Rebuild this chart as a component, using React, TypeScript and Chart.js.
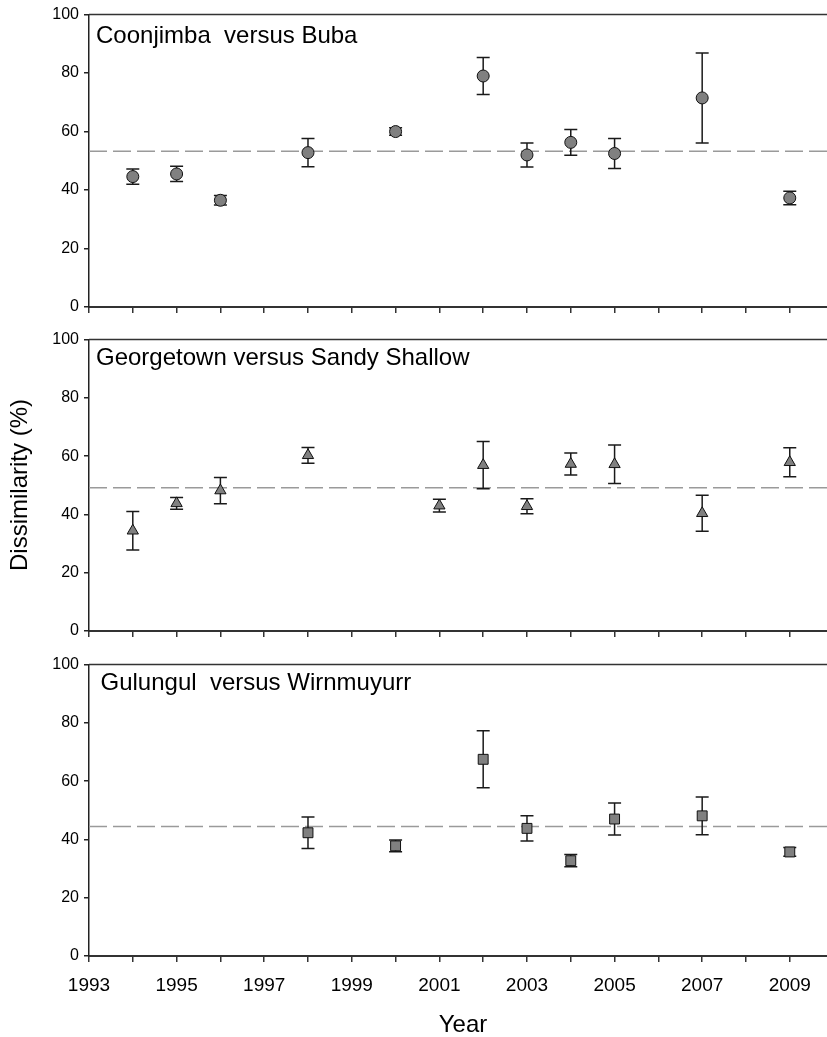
import React, { useEffect, useRef } from "react";
import { Chart, registerables } from "chart.js";

Chart.register(...registerables);

// ---- Data ----
const years1 = [1994, 1995, 1996, 1998, 2000, 2002, 2003, 2004, 2005, 2007, 2009];
const values1 = [44.6, 45.5, 36.5, 52.8, 60.0, 79.0, 52.0, 56.3, 52.5, 71.5, 37.3];
const errors1 = [2.6, 2.6, 1.6, 4.8, 1.3, 6.3, 4.1, 4.4, 5.1, 15.4, 2.3];
const mean1 = 53.3;

const years2 = [1994, 1995, 1996, 1998, 2001, 2002, 2003, 2004, 2005, 2007, 2009];
const values2 = [34.4, 43.8, 48.2, 60.3, 43.0, 56.9, 42.8, 57.3, 57.2, 40.4, 57.9];
const errors2 = [6.6, 2.0, 4.5, 2.7, 2.2, 8.1, 2.6, 3.8, 6.6, 6.2, 5.0];
const mean2 = 49.2;

const years3 = [1998, 2000, 2002, 2003, 2004, 2005, 2007, 2009];
const values3 = [42.3, 37.8, 67.5, 43.8, 32.7, 47.0, 48.1, 35.7];
const errors3 = [5.4, 2.0, 9.8, 4.3, 2.1, 5.5, 6.5, 1.5];
const mean3 = 44.4;

const panelTitles = ["Coonjimba  versus Buba", "Georgetown versus Sandy Shallow", "Gulungul  versus Wirnmuyurr"];
const xTickValues = [1993, 1994, 1995, 1996, 1997, 1998, 1999, 2000, 2001, 2002, 2003, 2004, 2005, 2006, 2007, 2008, 2009];
const yTickValues = [0, 20, 40, 60, 80, 100];
const xMin = 1993;
const xMax = 2009.85;
const yTitle = "Dissimilarity (%)";
const xTitle = "Year";

const FONT = '"Liberation Sans", Arial, Helvetica, sans-serif';

function errLines(xs: number[], vs: number[], es: number[]) {
  const out: any[] = [];
  xs.forEach((x, i) => {
    out.push({ x, y: vs[i] - es[i] });
    out.push({ x, y: vs[i] + es[i] });
    out.push({ x, y: null });
  });
  return out;
}
function capPoints(xs: number[], vs: number[], es: number[]) {
  const out: any[] = [];
  xs.forEach((x, i) => {
    out.push({ x, y: vs[i] - es[i] });
    out.push({ x, y: vs[i] + es[i] });
  });
  return out;
}
function markers(xs: number[], vs: number[]) {
  return xs.map((x, i) => ({ x, y: vs[i] }));
}

const framePlugin = {
  id: "frameTop",
  afterDraw(chart: any) {
    const { ctx, chartArea } = chart;
    ctx.save();
    ctx.strokeStyle = "#333";
    ctx.lineWidth = 1.5;
    ctx.beginPath();
    ctx.moveTo(chartArea.left, chartArea.top);
    ctx.lineTo(chartArea.right, chartArea.top);
    ctx.stroke();
    ctx.restore();
  },
};

type PanelSpec = {
  xs: number[];
  vs: number[];
  es: number[];
  mean: number;
  style: string;
  radius: number;
  padTop: number;
  xHeight: number;
  showLabels: boolean;
};

function makeConfig(p: PanelSpec): any {
  return {
    type: "scatter",
    data: {
      datasets: [
        {
          type: "line",
          data: [
            { x: xMin, y: p.mean },
            { x: xMax, y: p.mean },
          ],
          borderColor: "#9a9a9a",
          borderWidth: 1.5,
          borderDash: [18, 6],
          pointRadius: 0,
          order: 3,
        },
        {
          type: "line",
          data: errLines(p.xs, p.vs, p.es),
          borderColor: "#1a1a1a",
          borderWidth: 1.5,
          pointRadius: 0,
          spanGaps: false,
          order: 2,
        },
        {
          type: "scatter",
          data: capPoints(p.xs, p.vs, p.es),
          pointStyle: "line",
          pointRadius: 6.5,
          borderColor: "#1a1a1a",
          borderWidth: 1.5,
          order: 2,
        },
        {
          type: "scatter",
          data: markers(p.xs, p.vs),
          pointStyle: p.style,
          pointRadius: p.radius,
          backgroundColor: "#808080",
          borderColor: "#111",
          borderWidth: 1,
          order: 1,
        },
      ],
    },
    options: {
      responsive: false,
      maintainAspectRatio: false,
      animation: false,
      events: [],
      layout: { autoPadding: false, padding: { top: p.padTop, left: 0, right: 0, bottom: 0 } },
      plugins: { legend: { display: false }, tooltip: { enabled: false }, title: { display: false } },
      scales: {
        x: {
          type: "linear",
          min: xMin,
          max: xMax,
          afterBuildTicks: (s: any) => {
            s.ticks = xTickValues.map((v) => ({ value: v }));
          },
          afterFit: (s: any) => {
            s.height = p.xHeight;
          },
          grid: { drawOnChartArea: false, drawTicks: true, tickLength: 6, color: "#333", lineWidth: 1.5 },
          border: { display: true, color: "#333", width: 2 },
          ticks: {
            display: p.showLabels,
            autoSkip: false,
            maxRotation: 0,
            padding: 12,
            color: "#000",
            font: { family: FONT, size: 19 },
            callback: (v: any) => (Math.round(v) % 2 === 1 ? String(Math.round(v)) : ""),
          },
        },
        y: {
          type: "linear",
          min: 0,
          max: 100,
          afterBuildTicks: (s: any) => {
            s.ticks = yTickValues.map((v) => ({ value: v }));
          },
          afterFit: (s: any) => {
            s.width = 89;
          },
          grid: { drawOnChartArea: false, drawTicks: true, tickLength: 5, color: "#222", lineWidth: 1.5 },
          border: { display: true, color: "#222", width: 1.5 },
          ticks: { padding: 5, color: "#000", font: { family: FONT, size: 16 } },
        },
      },
    },
    plugins: [framePlugin],
  };
}

function Panel({ spec, top, height }: { spec: PanelSpec; top: number; height: number }) {
  const ref = useRef<HTMLCanvasElement | null>(null);
  useEffect(() => {
    if (!ref.current) return;
    const chart = new Chart(ref.current, makeConfig(spec));
    return () => chart.destroy();
  }, []);
  return (
    <canvas
      ref={ref}
      width={827}
      height={height}
      style={{ position: "absolute", left: 0, top, width: 827, height, display: "block" }}
    />
  );
}

const textStyle: React.CSSProperties = {
  position: "absolute",
  fontFamily: FONT,
  fontSize: 24,
  lineHeight: "24px",
  color: "#000",
  whiteSpace: "pre",
};

export default function App() {
  const specs: PanelSpec[] = [
    { xs: years1, vs: values1, es: errors1, mean: mean1, style: "circle", radius: 6, padTop: 14, xHeight: 18, showLabels: false },
    { xs: years2, vs: values2, es: errors2, mean: mean2, style: "triangle", radius: 6.5, padTop: 12, xHeight: 19, showLabels: false },
    { xs: years3, vs: values3, es: errors3, mean: mean3, style: "rect", radius: 7, padTop: 12.5, xHeight: 81, showLabels: true },
  ];
  return (
    <div style={{ position: "absolute", left: 0, top: 0, width: 827, height: 1037, background: "#fff", overflow: "hidden" }}>
      <Panel spec={specs[0]} top={0} height={325} />
      <Panel spec={specs[1]} top={325} height={325} />
      <Panel spec={specs[2]} top={650} height={387} />
      <div style={{ ...textStyle, left: 96, top: 23 }}>{panelTitles[0]}</div>
      <div style={{ ...textStyle, left: 96, top: 345 }}>{panelTitles[1]}</div>
      <div style={{ ...textStyle, left: 100.5, top: 670 }}>{panelTitles[2]}</div>
      <div
        style={{
          ...textStyle,
          width: 300,
          textAlign: "center",
          left: 18.7 - 150,
          top: 485 - 12,
          transform: "rotate(-90deg)",
          transformOrigin: "50% 50%",
        }}
      >
        {yTitle}
      </div>
      <div style={{ ...textStyle, width: 200, textAlign: "center", left: 463 - 100, top: 1012 }}>{xTitle}</div>
    </div>
  );
}
